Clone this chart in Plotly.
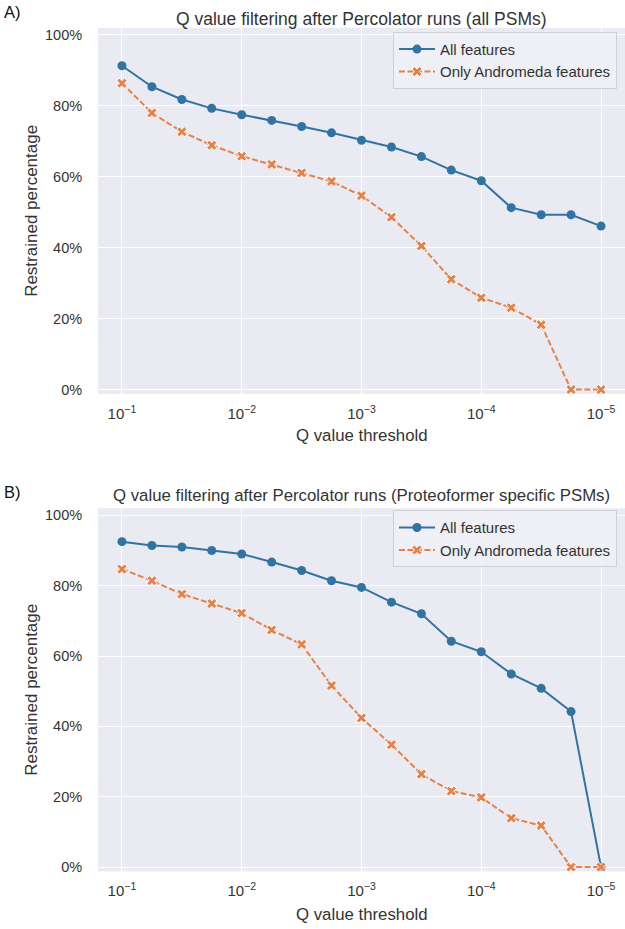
import plotly.graph_objects as go

# Q value thresholds (x), shared by both panels
q_thresholds = [1e-1, 5.62e-2, 3.16e-2, 1.78e-2, 1e-2, 5.62e-3, 3.16e-3, 1.78e-3,
                1e-3, 5.62e-4, 3.16e-4, 1.78e-4, 1e-4, 5.62e-5, 3.16e-5, 1.78e-5, 1e-5]

# Panel A: all PSMs (percent retained)
a_all = [91.3, 85.4, 81.8, 79.3, 77.5, 75.9, 74.2, 72.4, 70.3, 68.4, 65.7, 61.9,
         58.9, 51.3, 49.3, 49.3, 46.1]
a_andromeda = [86.4, 78.0, 72.7, 68.9, 65.8, 63.5, 61.1, 58.7, 54.7, 48.6, 40.5,
               31.1, 25.9, 23.1, 18.3, 0.0, 0.0]

# Panel B: Proteoformer specific PSMs
b_all = [92.5, 91.4, 91.0, 90.0, 89.0, 86.7, 84.3, 81.4, 79.5, 75.3, 72.0, 64.2,
         61.2, 54.9, 50.8, 44.2, 0.0]
b_andromeda = [84.7, 81.4, 77.6, 74.9, 72.2, 67.4, 63.3, 51.6, 42.4, 34.8, 26.4,
               21.6, 19.8, 13.9, 11.8, 0.0, 0.0]

series_names = ["All features", "Only Andromeda features"]
titles = ["Q value filtering after Percolator runs (all PSMs)",
          "Q value filtering after Percolator runs (Proteoformer specific PSMs)"]
panel_labels = ["A)", "B)"]
x_tickvals = [1e-1, 1e-2, 1e-3, 1e-4, 1e-5]
x_ticktext = ["10<sup>\u22121</sup>", "10<sup>\u22122</sup>", "10<sup>\u22123</sup>",
              "10<sup>\u22124</sup>", "10<sup>\u22125</sup>"]
y_tickvals = [0, 20, 40, 60, 80, 100]
y_ticktext = ["0%", "20%", "40%", "60%", "80%", "100%"]

BLUE = "#3274A1"
ORANGE = "#E3834A"
BG = "#EAEAF2"
TXT = "#333333"
FONT = "Liberation Sans, Arial, sans-serif"

W, H = 625, 929
L = 98
# pixel extents of plot areas (top, bottom)
panels_px = [(27, 395), (510, 875)]

def py(p):
    return (H - p) / H

fig = go.Figure()
data = [(a_all, a_andromeda), (b_all, b_andromeda)]
for i, (s_all, s_and) in enumerate(data):
    xa = "x" if i == 0 else "x2"
    ya = "y" if i == 0 else "y2"
    lg = "legend" if i == 0 else "legend2"
    fig.add_trace(go.Scatter(
        x=q_thresholds, y=s_all, name=series_names[0], mode="lines+markers",
        line=dict(color=BLUE, width=2),
        marker=dict(symbol="circle", size=9, color=BLUE, line=dict(width=0)),
        xaxis=xa, yaxis=ya, legend=lg))
    fig.add_trace(go.Scatter(
        x=q_thresholds, y=s_and, name=series_names[1], mode="lines+markers",
        line=dict(color=ORANGE, width=2, dash="6px,2.5px"),
        marker=dict(symbol="x", size=9, color=ORANGE, line=dict(width=1, color="white")),
        xaxis=xa, yaxis=ya, legend=lg))

axis_common_x = dict(type="log", range=[-0.8, -5.2], tickvals=x_tickvals, ticktext=x_ticktext,
                     showgrid=True, gridcolor="white", gridwidth=1.3, zeroline=False,
                     showline=False, ticks="outside", ticklen=6, tickcolor="rgba(0,0,0,0)",
                     tickfont=dict(size=15, color=TXT, family=FONT), domain=[0, 1])
axis_common_y = dict(range=[-1.2, 102], tickvals=y_tickvals, ticktext=y_ticktext,
                     showgrid=True, gridcolor="white", gridwidth=1.3, zeroline=False,
                     showline=False, ticks="outside", ticklen=12, tickcolor="rgba(0,0,0,0)",
                     tickfont=dict(size=14.5, color=TXT, family=FONT))

layout = dict(
    width=W, height=H, margin=dict(l=L, r=0, t=0, b=0),
    paper_bgcolor="white", plot_bgcolor=BG,
    font=dict(family=FONT, color=TXT),
    xaxis=dict(**axis_common_x, anchor="y"),
    yaxis=dict(**axis_common_y, domain=[py(panels_px[0][1]), py(panels_px[0][0])], anchor="x"),
    xaxis2=dict(**axis_common_x, anchor="y2"),
    yaxis2=dict(**axis_common_y, domain=[py(panels_px[1][1]), py(panels_px[1][0])], anchor="x2"),
)
legend_style = dict(bgcolor="rgba(240,240,246,0.9)", bordercolor="#CFCFD6", borderwidth=1,
                    font=dict(size=15, color=TXT, family=FONT), xanchor="right", yanchor="top",
                    x=(617 - L) / (W - L), tracegroupgap=0, itemwidth=36)
layout["legend"] = dict(**legend_style, y=py(31))
layout["legend2"] = dict(**legend_style, y=py(512))
fig.update_layout(**layout)

ann = []
title_y = [18, 497]
xlabel_y = [437, 918]
for i in range(2):
    ann.append(dict(text=titles[i], xref="paper", yref="paper", x=0.5, y=py(title_y[i]),
                    xanchor="center", yanchor="middle", showarrow=False,
                    font=dict(size=[17.5, 16.8][i], color=TXT, family=FONT)))
    ann.append(dict(text=panel_labels[i], xref="paper", yref="paper", x=(2 - L) / (W - L),
                    y=py([11, 494][i]), xanchor="left", yanchor="middle", showarrow=False,
                    font=dict(size=16.5, color="#111111", family=FONT)))
    ann.append(dict(text="Q value threshold", xref="paper", yref="paper", x=0.5,
                    y=py(xlabel_y[i]), xanchor="center", yanchor="middle", showarrow=False,
                    font=dict(size=16.8, color=TXT, family=FONT)))
    mid = (panels_px[i][0] + panels_px[i][1]) / 2
    ann.append(dict(text="Restrained percentage", xref="paper", yref="paper",
                    x=(32 - L) / (W - L), y=py(mid), xanchor="center", yanchor="middle",
                    textangle=-90, showarrow=False,
                    font=dict(size=17, color=TXT, family=FONT)))
fig.update_layout(annotations=ann)

fig.write_html("out.html", config={"displayModeBar": False},
               post_script="document.body.style.margin='0';document.body.style.overflow='hidden';")
